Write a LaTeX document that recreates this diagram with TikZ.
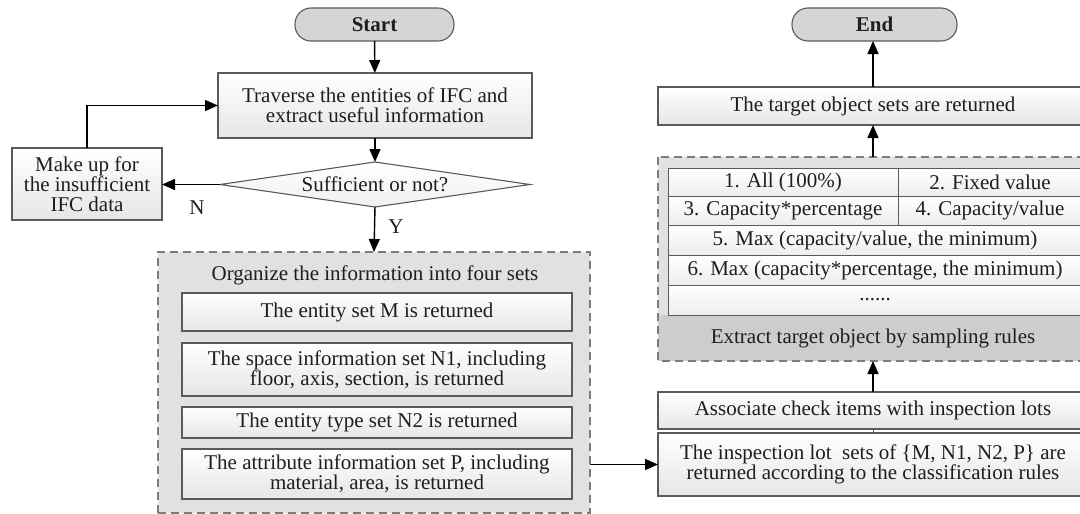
\documentclass[tikz,border=0pt]{standalone}
\usepackage{fontspec}
\setmainfont{Liberation Serif}
\usetikzlibrary{arrows.meta,shapes.geometric}

\definecolor{edge}{HTML}{5A5A5A}
\definecolor{txt}{HTML}{1E1E1E}
\definecolor{term}{HTML}{D5D5D5}
\definecolor{grpfill}{HTML}{E1E1E1}
\definecolor{grpdash}{HTML}{7C7C7C}
\definecolor{band}{HTML}{CDCDCD}
\definecolor{boxbot}{HTML}{E6E6E6}

\begin{document}
\begin{tikzpicture}[x=1pt,y=-1pt,
  font=\fontsize{21}{20}\selectfont, text=txt,
  every node/.style={inner sep=0pt, outer sep=0pt},
  terminal/.style={draw=edge, line width=1.1pt, fill=term,
    rounded corners=16pt, minimum height=33pt,
    font=\fontsize{21}{20}\selectfont\bfseries},
  procbox/.style={draw=edge, line width=1.1pt, top color=white,
    bottom color=boxbot, align=center},
  cell/.style={draw=edge, line width=1pt, top color=white,
    bottom color=boxbot!70!white},
  grouparea/.style={fill=grpfill, draw=grpdash, line width=1.2pt,
    dash pattern=on 8pt off 5pt},
  flow/.style={draw=black, line width=1.4pt,
    -{Triangle[length=13pt,width=11pt]}},
  tag/.style={font=\fontsize{21}{20}\selectfont}
]
\useasboundingbox (0,0) rectangle (1080,514);
\clip (0,0) rectangle (1080,514);

% ---------- left column ----------
\node[terminal, minimum width=159pt] (start) at (374.5,24.5) {Start};

\node[procbox, minimum width=314pt, minimum height=65pt] (trav) at (375,105.5)
  {Traverse the entities of IFC and\\extract useful information};

\node[diamond, draw=edge, line width=1.1pt, top color=white, bottom color=boxbot!60!white,
  shape aspect=6.9, minimum width=310pt, minimum height=45pt] (dec) at (375,184.5)
  {Sufficient or not?};

\node[procbox, minimum width=150pt, minimum height=72pt] (makeup) at (87,184)
  {Make up for\\the insufficient\\IFC data};

\node[tag] (nlab) at (197,208) {N};
\node[tag] (ylab) at (396,227) {Y};

% grouped output of the four sets
\node[grouparea, minimum width=432pt, minimum height=261pt] (org) at (374,382.5) {};
\node (orgtitle) at (375,275) {Organize the information into four sets};
\node[procbox, minimum width=390pt, minimum height=38pt] (setm) at (377,312)
  {The entity set M is returned};
\node[procbox, minimum width=390pt, minimum height=53pt] (setn1) at (377,369.5)
  {The space information set N1, including\\floor, axis, section, is returned};
\node[procbox, minimum width=390pt, minimum height=31pt] (setn2) at (377,422.5)
  {The entity type set N2 is returned};
\node[procbox, minimum width=390pt, minimum height=50pt] (setp) at (377,474)
  {The attribute information set P, including\\material, area, is returned};

% ---------- right column ----------
\node[terminal, minimum width=165pt] (finish) at (874.5,24.5) {End};

\node[procbox, minimum width=430pt, minimum height=38pt] (target) at (873,106)
  {The target object sets are returned};

% sampling rules group
\node[fill=grpfill, minimum width=432pt, minimum height=204pt] (rgrp) at (874,259) {};
\coordinate (tblbot) at (668,315);
\fill[band] (rgrp.west |- tblbot) rectangle (rgrp.south east);
\draw[grouparea, fill=none] (rgrp.north west) rectangle (rgrp.south east);

\node[cell, minimum width=230pt, minimum height=28pt] (r1a) at (783,182) {1. All (100\%)};
\node[cell, minimum width=184pt, minimum height=28pt] (r1b) at (990,182) {2. Fixed value};
\node[cell, minimum width=230pt, minimum height=29pt] (r2a) at (783,210.5) {3. Capacity*percentage};
\node[cell, minimum width=184pt, minimum height=29pt] (r2b) at (990,210.5) {4. Capacity/value};
\node[cell, minimum width=414pt, minimum height=30pt] (r3) at (875,240)
  {5. Max (capacity/value, the minimum)};
\node[cell, minimum width=414pt, minimum height=30pt] (r4) at (875,270)
  {6. Max (capacity*percentage, the minimum)};
\node[cell, minimum width=414pt, minimum height=30pt] (r5) at (875,300) {......};
\node (extract) at (873,338) {Extract target object by sampling rules};

% inspection lots
\node[procbox, minimum width=430pt, minimum height=37pt] (assoc) at (873,410.5)
  {Associate check items with inspection lots};
\node[procbox, minimum width=430pt, minimum height=63pt] (lots) at (873,464.5)
  {The inspection lot\ \ sets of \{M, N1, N2, P\} are\\returned according to the classification rules};

% ---------- connectors ----------
\draw[flow] (start) -- (trav);
\draw[flow] (trav) -- (dec);
\draw[flow] (dec.west) -- (dec.west -| makeup.east);
\draw[flow] (makeup.north) |- (trav.west);
\draw[flow] (dec.south) -- (org.north);
\draw[flow] (org.east |- lots.west) -- (lots.west);
\draw[draw=edge, line width=1pt] (lots.north) -- (assoc.south);
\draw[flow] (assoc.north) -- (assoc.north |- rgrp.south);
\draw[flow] (rgrp.north -| target.south) -- (target.south);
\draw[flow] (target.north) -- (target.north |- finish.south);
\end{tikzpicture}
\end{document}
